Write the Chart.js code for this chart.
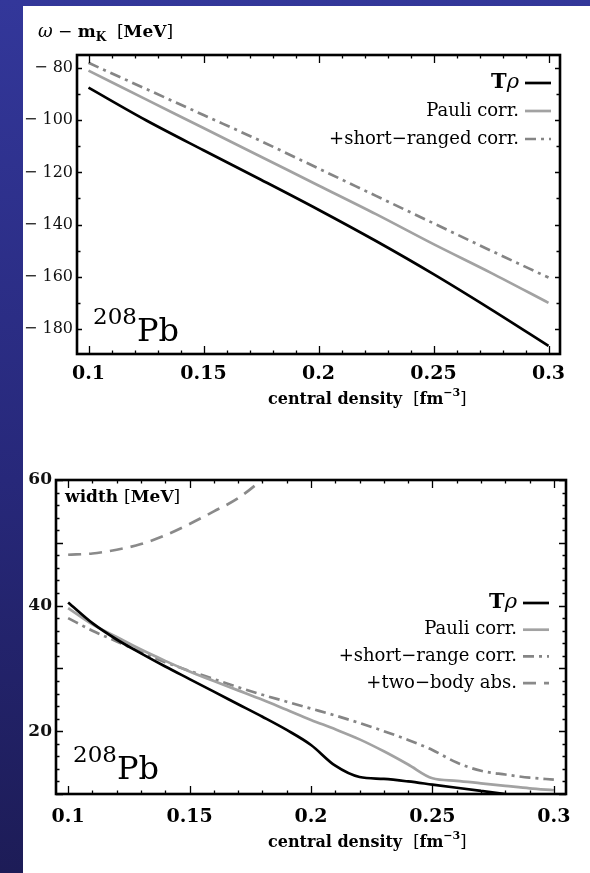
<!DOCTYPE html>
<html>
<head>
<meta charset="utf-8">
<title>K- optical potential in 208Pb</title>
<script src="https://cdn.jsdelivr.net/npm/chart.js@4.4.1/dist/chart.umd.min.js"></script>
<style>
  html, body { margin: 0; padding: 0; }
  body {
    width: 590px; height: 873px; overflow: hidden; position: relative;
    background: linear-gradient(#33379a, #27287a 55%, #1d1c57);
  }
  #sheet { position: absolute; left: 23px; top: 6px; width: 567px; height: 867px; background: #fff; }
  canvas { position: absolute; left: 23px; }
</style>
</head>
<body>
<div id="sheet"></div>
<canvas id="energy" width="567" height="420" style="top:6px"></canvas>
<canvas id="width" width="567" height="427" style="top:446px"></canvas>

<script>
// upper panel: omega - m_K vs central density
var densityTop = [0.1, 0.125, 0.15, 0.175, 0.2, 0.225, 0.25, 0.275, 0.3];
var tRhoTop = [-87.5, -100, -111.5, -122.8, -134.3, -146.3, -159, -172.5, -186.5];
var pauliTop = [-81, -92, -103, -114, -125, -136, -147.5, -158.5, -170];
var shortTop = [-78, -88, -98, -108, -118.5, -129, -139.5, -150, -160.3];

// lower panel: width vs central density
var densityBottom = [0.1, 0.11, 0.12, 0.13, 0.14, 0.15, 0.16, 0.17, 0.18, 0.19, 0.2,
  0.21, 0.22, 0.23, 0.24, 0.25, 0.26, 0.27, 0.28, 0.29, 0.3];
var tRhoBottom = [40.5, 37.2, 34.6, 32.4, 30.3, 28.3, 26.3, 24.3, 22.3, 20.2, 17.8,
  14.5, 12.7, 12.4, 12.0, 11.5, 11.0, 10.5, 10.0, 9.5, 9.0];
var pauliBottom = [39.6, 37.0, 35.0, 33.0, 31.2, 29.5, 28.0, 26.5, 25.0, 23.4, 21.8,
  20.3, 18.7, 16.8, 14.7, 12.5, 12.1, 11.7, 11.3, 10.9, 10.6];
var shortBottom = [38.0, 36.0, 34.3, 32.6, 31.0, 29.6, 28.3, 27.0, 25.8, 24.7, 23.6,
  22.5, 21.3, 20.0, 18.6, 17.0, 15.0, 13.7, 13.1, 12.6, 12.3];
var densityTwoBody = [0.1, 0.11, 0.12, 0.13, 0.14, 0.15, 0.16, 0.17, 0.18, 0.19];
var twoBodyBottom = [48.1, 48.3, 48.9, 49.8, 51.2, 53.0, 55.0, 57.1, 60.1, 63.5];

var xTicks = [0.1, 0.15, 0.2, 0.25, 0.3];
var xLabels = ['0.1', '0.15', '0.2', '0.25', '0.3'];
var yTicksTop = [-80, -100, -120, -140, -160, -180];
var yLabelsTop = ['\u2212 80', '\u2212 100', '\u2212 120', '\u2212 140', '\u2212 160', '\u2212 180'];
var yTicksBottom = [20, 40, 60];
var yLabelsBottom = ['20', '40', '60'];

var legendTop = ['T\u03c1', 'Pauli corr.', '+short\u2212ranged corr.'];
var legendBottom = ['T\u03c1', 'Pauli corr.', '+short\u2212range corr.', '+two\u2212body abs.'];

var SERIF = '"DejaVu Serif", "Liberation Serif", serif';

function font(style, size) {
  return style + ' ' + size + 'px ' + SERIF;
}

function points(xs, ys) {
  return xs.map(function (x, i) { return { x: x, y: ys[i] }; });
}

// writes a row of differently styled pieces: [text, font, dy]
function drawRuns(ctx, x, y, runs, align) {
  var total = 0;
  runs.forEach(function (r) { ctx.font = r[1]; total += ctx.measureText(r[0]).width; });
  var cx = align === 'right' ? x - total : x;
  runs.forEach(function (r) {
    ctx.font = r[1];
    ctx.fillText(r[0], cx, y + (r[2] || 0));
    cx += ctx.measureText(r[0]).width;
  });
}

function drawLegend(chart, labels, right, top, step) {
  var ctx = chart.ctx;
  chart.data.datasets.forEach(function (ds, i) {
    var y = top + i * step;
    var runs;
    if (labels[i] === 'T\u03c1') {
      runs = [['T', font('bold', 21)], ['\u03c1', font('italic', 21)]];
    } else {
      runs = [[labels[i], font('normal', 18)]];
    }
    ctx.fillStyle = '#000';
    ctx.textBaseline = 'middle';
    drawRuns(ctx, right, y, runs, 'right');
    ctx.strokeStyle = ds.borderColor;
    ctx.lineWidth = ds.borderWidth;
    ctx.lineCap = ds.borderCapStyle || 'butt';
    ctx.setLineDash(ds.borderDash || []);
    ctx.beginPath();
    ctx.moveTo(right + 6, y);
    ctx.lineTo(right + 32, y);
    ctx.stroke();
    ctx.setLineDash([]);
  });
}

function drawLead(ctx, x, y) {
  ctx.fillStyle = '#000';
  ctx.textBaseline = 'alphabetic';
  drawRuns(ctx, x, y, [['208', font('normal', 23), -17], ['Pb', font('normal', 32)]]);
}

function drawXTitle(ctx, x, y) {
  ctx.fillStyle = '#000';
  ctx.textBaseline = 'alphabetic';
  drawRuns(ctx, x, y, [
    ['central density  ', font('bold', 16)],
    ['[', font('normal', 16)],
    ['fm', font('bold', 16)],
    ['\u22123', font('bold', 11), -8],
    [']', font('normal', 16)]
  ]);
}

// box round the plot area with inward ticks on all four sides
var frameTicks = {
  id: 'frameTicks',
  afterDatasetsDraw: function (chart, args, opts) {
    var ctx = chart.ctx;
    var a = chart.chartArea;
    var sx = chart.scales.x;
    var sy = chart.scales.y;
    var i, v, p, len;
    ctx.save();
    ctx.strokeStyle = '#000';
    ctx.lineWidth = 1.3;
    ctx.beginPath();
    for (i = 0; i <= 20; i++) {
      v = 0.1 + i * 0.01;
      p = Math.round(sx.getPixelForValue(v)) + 0.5;
      len = i % 5 === 0 ? 8 : 3.5;
      ctx.moveTo(p, a.bottom); ctx.lineTo(p, a.bottom - len);
      ctx.moveTo(p, a.top); ctx.lineTo(p, a.top + len);
    }
    for (v = opts.yFrom; v <= opts.yTo; v += opts.yMinor) {
      p = Math.round(sy.getPixelForValue(v)) + 0.5;
      len = (v - opts.yFrom) % opts.yMajor === 0 ? opts.majorLen : opts.minorLen;
      ctx.moveTo(a.left, p); ctx.lineTo(a.left + len, p);
      ctx.moveTo(a.right, p); ctx.lineTo(a.right - len, p);
    }
    ctx.stroke();
    ctx.lineWidth = 2.6;
    ctx.strokeRect(a.left, a.top, a.right - a.left, a.bottom - a.top);
    ctx.restore();
  }
};

var energyText = {
  id: 'energyText',
  afterDraw: function (chart) {
    var ctx = chart.ctx;
    ctx.save();
    ctx.fillStyle = '#000';
    ctx.textBaseline = 'alphabetic';
    drawRuns(ctx, 15, 31, [
      ['\u03c9', font('italic', 18)],
      [' \u2212 ', font('normal', 17)],
      ['m', font('bold', 17)],
      ['K', font('bold', 12), 4],
      ['  [', font('normal', 17)],
      ['MeV', font('bold', 17)],
      [']', font('normal', 17)]
    ]);
    drawLegend(chart, legendTop, 496, 77, 28);
    drawLead(ctx, 70, 335);
    drawXTitle(ctx, 245, 398);
    ctx.restore();
  }
};

var widthText = {
  id: 'widthText',
  afterDraw: function (chart) {
    var ctx = chart.ctx;
    ctx.save();
    ctx.fillStyle = '#000';
    ctx.textBaseline = 'alphabetic';
    drawRuns(ctx, 42, 56, [
      ['width ', font('bold', 17)],
      ['[', font('normal', 17)],
      ['MeV', font('bold', 17)],
      [']', font('normal', 17)]
    ]);
    drawLegend(chart, legendBottom, 494, 157, 26.7);
    drawLead(ctx, 50, 333);
    drawXTitle(ctx, 245, 401);
    ctx.restore();
  }
};

function lineSet(data, color, dash) {
  return {
    data: data,
    borderColor: color,
    borderWidth: 2.7,
    borderDash: dash,
    borderCapStyle: 'butt',
    pointRadius: 0,
    fill: false,
    cubicInterpolationMode: 'monotone'
  };
}

function axes(yMin, yMax, yTicks, yLabels, yFont, yWidth, xPad) {
  return {
    x: {
      type: 'linear', min: 0.095, max: 0.305,
      grid: { display: false, drawTicks: false, tickLength: 0 }, border: { display: false },
      afterBuildTicks: function (s) { s.ticks = xTicks.map(function (v) { return { value: v }; }); },
      afterFit: function (s) { s.height = 60; },
      ticks: {
        callback: function (v, i) { return xLabels[i]; },
        font: { family: SERIF, weight: 'bold', size: 19 },
        color: '#000', padding: xPad, maxRotation: 0, autoSkip: false
      }
    },
    y: {
      type: 'linear', min: yMin, max: yMax,
      grid: { display: false, drawTicks: false, tickLength: 0 }, border: { display: false },
      afterBuildTicks: function (s) { s.ticks = yTicks.map(function (v) { return { value: v }; }); },
      afterFit: function (s) { s.width = yWidth; },
      ticks: {
        callback: function (v, i) { return yLabels[i]; },
        font: yFont,
        color: '#111', padding: 4, autoSkip: false
      }
    }
  };
}

new Chart(document.getElementById('energy').getContext('2d'), {
  type: 'line',
  data: {
    datasets: [
      lineSet(points(densityTop, tRhoTop), '#000000', []),
      lineSet(points(densityTop, pauliTop), '#a2a2a2', []),
      lineSet(points(densityTop, shortTop), '#858585', [11, 5, 3, 5])
    ]
  },
  options: {
    responsive: false,
    animation: false,
    devicePixelRatio: 1,
    layout: { padding: { top: 49, right: 30, bottom: 12, left: 0 } },
    scales: axes(-189.6, -75, yTicksTop, yLabelsTop,
      { family: SERIF, weight: 'normal', size: 16 }, 54, 9),
    plugins: {
      legend: { display: false },
      tooltip: { enabled: false },
      frameTicks: { yFrom: -180, yTo: -80, yMinor: 10, yMajor: 20, majorLen: 5, minorLen: 3.5 }
    }
  },
  plugins: [frameTicks, energyText]
});

new Chart(document.getElementById('width').getContext('2d'), {
  type: 'line',
  data: {
    datasets: [
      lineSet(points(densityBottom, tRhoBottom), '#000000', []),
      lineSet(points(densityBottom, pauliBottom), '#a2a2a2', []),
      lineSet(points(densityBottom, shortBottom), '#858585', [11, 5, 3, 5]),
      lineSet(points(densityTwoBody, twoBodyBottom), '#8a8a8a', [13, 8])
    ]
  },
  options: {
    responsive: false,
    animation: false,
    devicePixelRatio: 1,
    layout: { padding: { top: 34, right: 24, bottom: 19, left: 0 } },
    scales: axes(10, 60, yTicksBottom, yLabelsBottom,
      { family: SERIF, weight: 'bold', size: 17 }, 33, 12),
    plugins: {
      legend: { display: false },
      tooltip: { enabled: false },
      frameTicks: { yFrom: 10, yTo: 60, yMinor: 2, yMajor: 10, majorLen: 7, minorLen: 3.5 }
    }
  },
  plugins: [frameTicks, widthText]
});
</script>
</body>
</html>
